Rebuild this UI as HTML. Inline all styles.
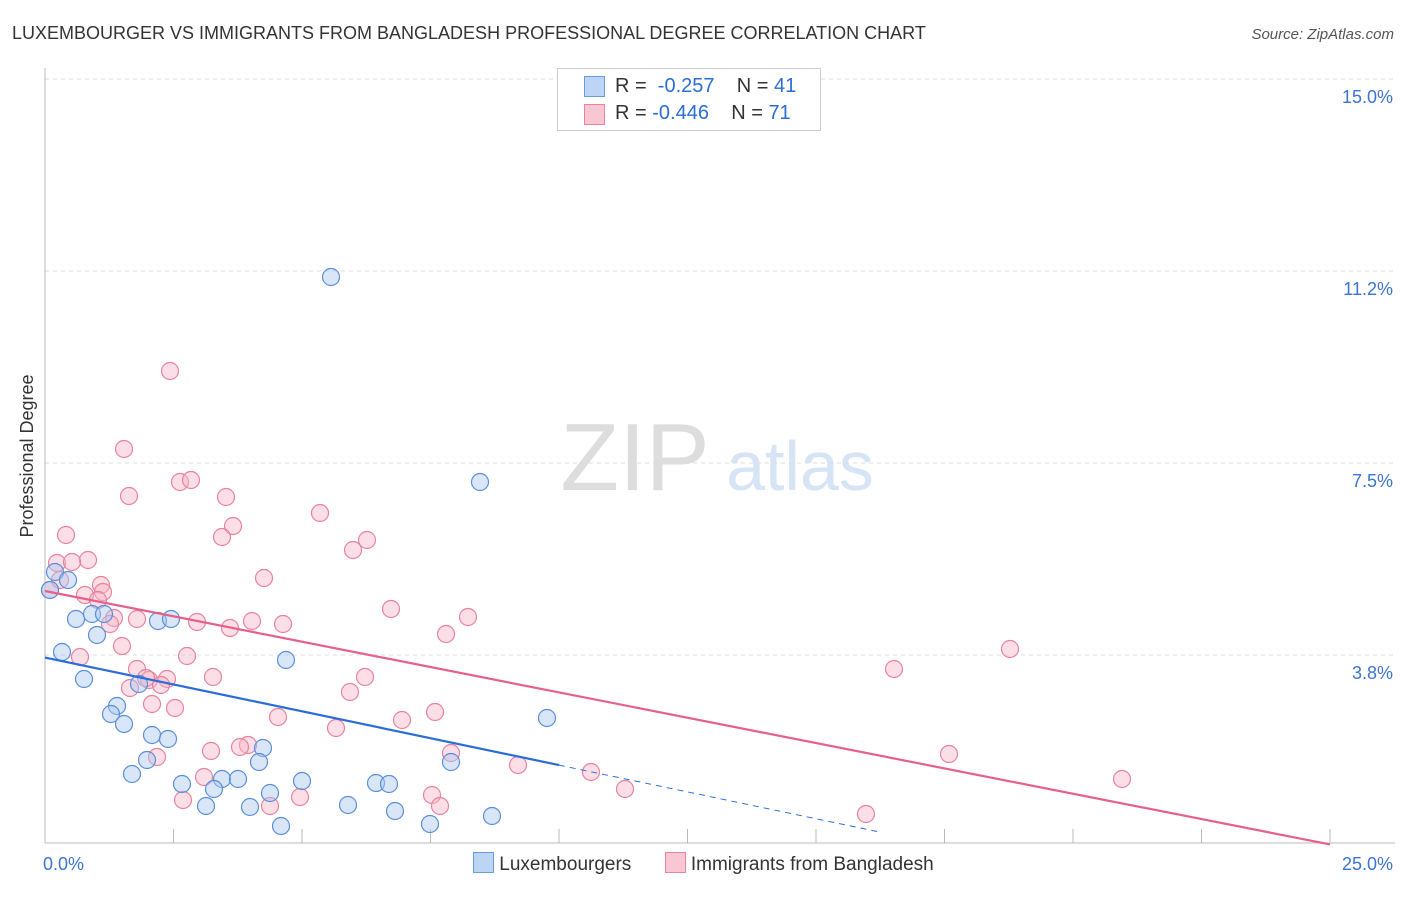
<!DOCTYPE html>
<html><head><meta charset="utf-8">
<style>
body{margin:0;background:#fff;font-family:"Liberation Sans",sans-serif;}
svg text{font-family:"Liberation Sans",sans-serif;}
</style></head>
<body>
<svg id="chart" width="1406" height="892" xmlns="http://www.w3.org/2000/svg">
<text x="12" y="39" font-size="18" fill="#333">LUXEMBOURGER VS IMMIGRANTS FROM BANGLADESH PROFESSIONAL DEGREE CORRELATION CHART</text>
<text x="1394" y="39" font-size="15" fill="#555" font-style="italic" text-anchor="end">Source: ZipAtlas.com</text>
<text x="33" y="456" font-size="18" fill="#333" text-anchor="middle" transform="rotate(-90 33 456)">Professional Degree</text>
<g><text x="635" y="490" font-size="96" fill="#ddd" font-family="Liberation Serif" text-anchor="middle">ZIP</text><text x="800" y="490" font-size="70" fill="#d6e4f5" text-anchor="middle">atlas</text></g>
<g id="grid"></g><g id="marks"></g>
</svg>
<script>
const yTicks=[15.0,11.25,7.5,3.75];
const yTickLabels=["15.0%","11.2%","7.5%","3.8%"];
const xLabels=["0.0%","25.0%"];
const bluePx=[[331,277],[480,482],[55,572],[68,580],[50,590],[92,614],[104,614],[76,619],[158,621],[171,619],[97,635],[62,652],[286,660],[84,679],[139,684],[117,706],[111,714],[124,724],[547,718],[152,735],[168,739],[263,748],[259,762],[451,762],[132,774],[182,784],[222,779],[238,779],[214,789],[302,781],[376,783],[389,784],[270,793],[206,806],[250,807],[348,805],[395,811],[492,816],[281,826],[430,824],[147,760]];
const pinkPx=[[170,371],[124,449],[180,482],[191,480],[129,496],[226,497],[233,526],[320,513],[222,537],[367,540],[353,550],[66,535],[57,563],[88,560],[72,562],[264,578],[101,585],[103,592],[85,595],[50,590],[114,618],[98,600],[137,619],[197,622],[230,628],[252,621],[283,624],[391,609],[468,617],[446,634],[122,646],[80,657],[187,656],[137,669],[167,679],[149,680],[161,685],[213,677],[365,677],[350,692],[152,704],[175,708],[278,717],[402,720],[435,712],[336,728],[248,745],[211,751],[157,757],[451,753],[518,765],[591,772],[625,789],[204,777],[270,806],[300,797],[183,800],[432,795],[440,806],[866,814],[894,669],[1010,649],[949,754],[1122,779],[110,624],[60,580],[240,747],[146,678],[130,688]];
// convert reading to data units (x %, y %)
const blueData=bluePx.map(p=>[(p[0]-45)/51.4,15-(p[1]-79)/51.2]);
const pinkData=pinkPx.map(p=>[(p[0]-45)/51.4,15-(p[1]-79)/51.2]);
const blueTrend=[[0,3.7],[10,1.6],[16.2,0.3]];
const pinkTrend=[[0,5.0],[25,0.05]];
const X=v=>45+v*51.4, Y=v=>79+(15-v)*51.2;
const NS="http://www.w3.org/2000/svg";
const svg=document.getElementById('chart'),grid=document.getElementById('grid'),marks=document.getElementById('marks');
function mk(tag,attrs,parent){const e=document.createElementNS(NS,tag);for(const k in attrs)e.setAttribute(k,attrs[k]);parent.appendChild(e);return e;}
yTicks.forEach((t,i)=>{
 const l=mk('line',{x1:45,x2:1395,y1:Y(t),y2:Y(t),stroke:'#ddd','stroke-dasharray':'4,4'},grid);
 
 
 const tx=mk('text',{x:1393,y:Y(t)+24,'font-size':18,fill:'#3b74d1','text-anchor':'end'},grid);
 tx.textContent=yTickLabels[i];
 
 
});
const ax=mk('line',{x1:45,x2:45,y1:68,y2:843,stroke:'#bbb'},grid);


const bx=mk('line',{x1:45,x2:1395,y1:843,y2:843,stroke:'#bbb'},grid);


for(let i=1;i<=10;i++){const t=mk('line',{x1:X(i*2.5),x2:X(i*2.5),y1:829,y2:843,stroke:'#bbb'},grid);
 
 }
[[X(0)-2,'start',0],[1393,'end',1]].forEach(a=>{const t=mk('text',{x:a[0],y:870,'font-size':18,fill:'#3b74d1','text-anchor':a[1]},grid);t.textContent=xLabels[a[2]];
 
 });
function pts(data,fill,stroke,name){data.forEach(d=>{const c=mk('circle',{cx:X(d[0]),cy:Y(d[1]),r:8.5,fill:fill,'fill-opacity':0.45,stroke:stroke,'stroke-width':1.2},marks);
 
 });}
pts(pinkData,'#f7b6c8','#e8829f','bangladesh-point');
pts(blueData,'#a9c8f0','#5a8fd8','luxembourger-point');
const bl=mk('line',{x1:X(blueTrend[0][0]),y1:Y(blueTrend[0][1]),x2:X(blueTrend[1][0]),y2:Y(blueTrend[1][1]),stroke:'#2a6dd6','stroke-width':2.2},marks);


const bd=mk('line',{x1:X(blueTrend[1][0]),y1:Y(blueTrend[1][1]),x2:X(blueTrend[2][0]),y2:Y(blueTrend[2][1]),stroke:'#2a6dd6','stroke-width':1,'stroke-dasharray':'6,5'},marks);


const pl=mk('line',{x1:X(pinkTrend[0][0]),y1:Y(pinkTrend[0][1]),x2:X(pinkTrend[1][0]),y2:Y(pinkTrend[1][1]),stroke:'#e5608a','stroke-width':2.2},marks);


</script>
<div style="position:absolute;left:557px;top:68px;width:262px;height:61px;border:1px solid #ccc;background:#fff;font-size:20px;color:#333;">
 <div style="position:absolute;left:26px;top:7px;width:19px;height:19px;background:#bcd5f5;border:1px solid #6a9ae0;"></div>
 <div style="position:absolute;left:57px;top:6px;">R = <span style="color:#2a6dd6">&nbsp;-0.257</span>&nbsp;&nbsp;&nbsp; N = <span style="color:#2a6dd6">41</span></div>
 <div style="position:absolute;left:26px;top:35px;width:19px;height:19px;background:#f9c6d4;border:1px solid #e8829f;"></div>
 <div style="position:absolute;left:57px;top:33px;">R = <span style="color:#2a6dd6">-0.446</span>&nbsp;&nbsp;&nbsp; N = <span style="color:#2a6dd6">71</span></div>
</div>
<div style="position:absolute;left:473px;top:852px;font-size:19px;color:#333;white-space:nowrap;">
 <span><span style="display:inline-block;width:19px;height:19px;background:#bcd5f5;border:1px solid #6a9ae0;vertical-align:-3px;"></span> Luxembourgers</span>
 <span style="margin-left:28px;"><span style="display:inline-block;width:19px;height:19px;background:#f9c6d4;border:1px solid #e8829f;vertical-align:-3px;"></span> Immigrants from Bangladesh</span>
</div>
</body></html>
